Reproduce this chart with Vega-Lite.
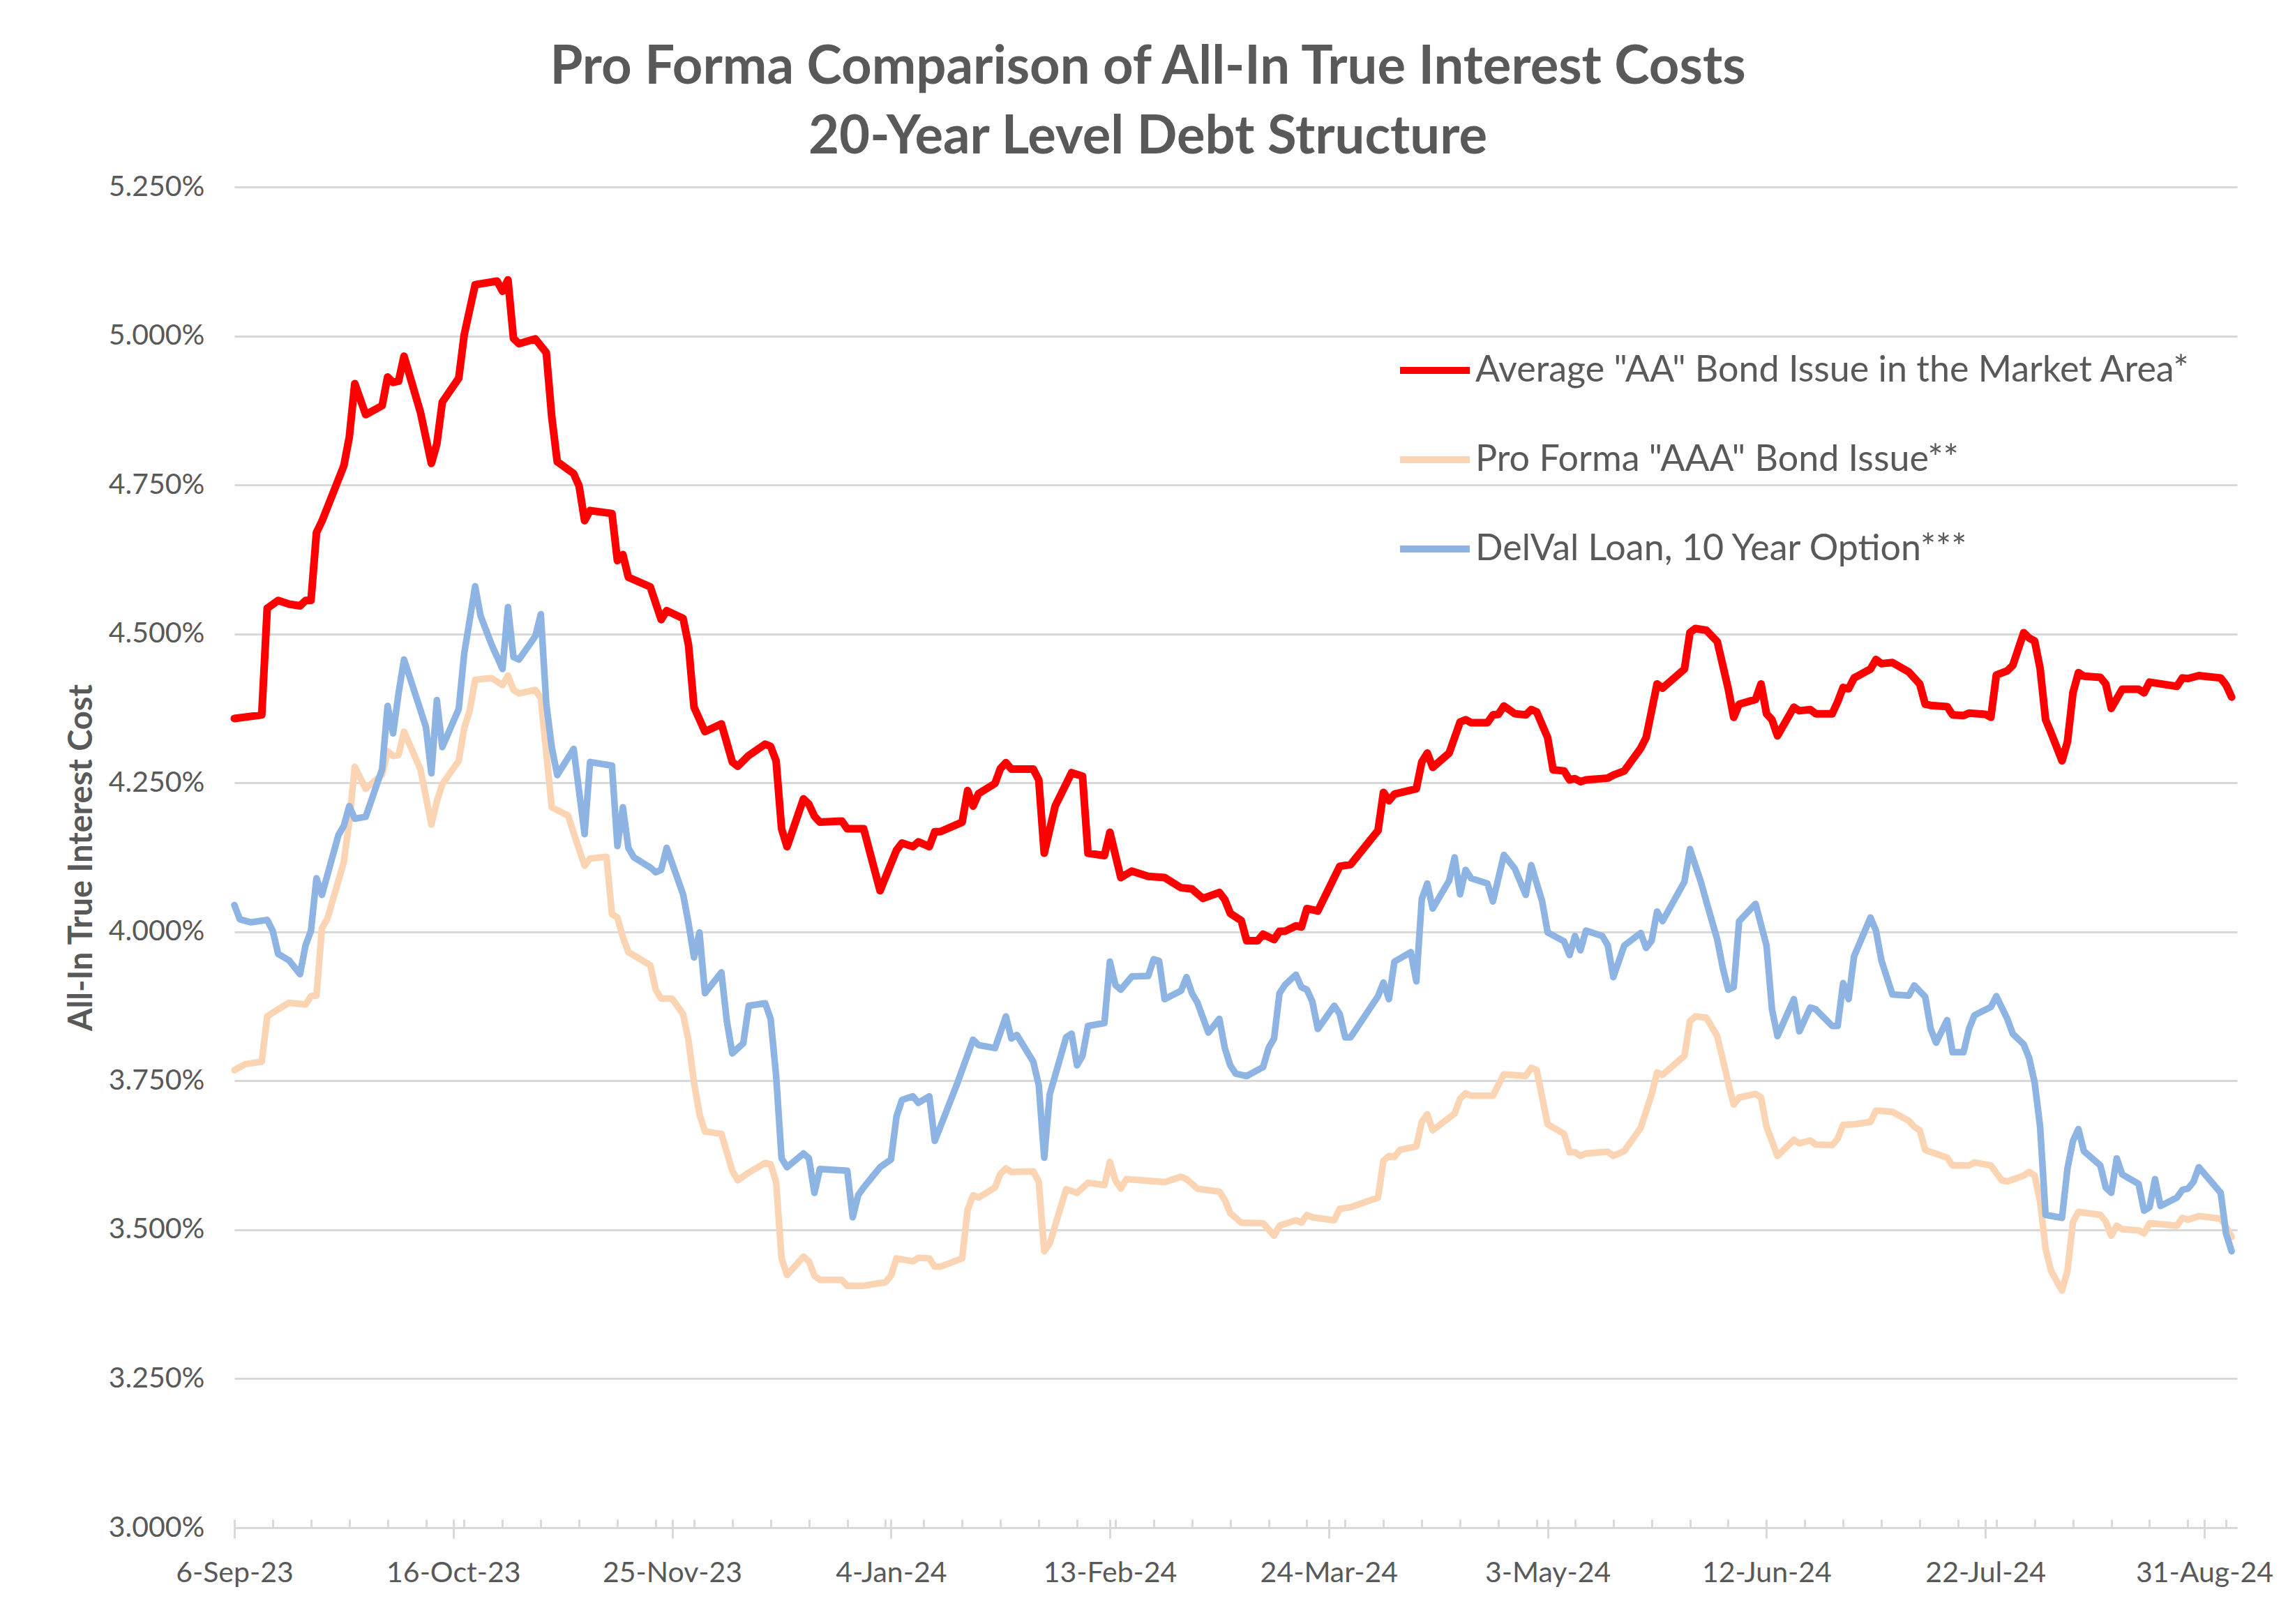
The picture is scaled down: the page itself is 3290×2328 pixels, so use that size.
{
"$schema": "https://vega.github.io/schema/vega-lite/v6.json",
"width": 2871, "height": 1922,
"autosize": {"type": "none"},
"padding": {"left": 336, "top": 268, "right": 83, "bottom": 138},
"background": "white",
"config": {"view": {"stroke": null}, "font": "Lato"},
"title": {"text": ["Pro Forma Comparison of All-In True Interest Costs", "20-Year Level Debt Structure"], "font": "Lato", "fontSize": 76, "fontWeight": "bold", "color": "#595959", "lineHeight": 100, "anchor": "middle", "frame": "group", "dx": -126, "dy": 101, "offset": 36, "baseline": "bottom"},
"datasets": {
"aa": [
{"d":"2023-09-06","v":4.358},{"d":"2023-09-11","v":4.364},{"d":"2023-09-12","v":4.543},{"d":"2023-09-14","v":4.556},{"d":"2023-09-16","v":4.550},{"d":"2023-09-18","v":4.547},{"d":"2023-09-19","v":4.556},{"d":"2023-09-20","v":4.556},{"d":"2023-09-21","v":4.670},{"d":"2023-09-22","v":4.689},{"d":"2023-09-26","v":4.782},{"d":"2023-09-27","v":4.830},{"d":"2023-09-28","v":4.920},{"d":"2023-09-30","v":4.868},
{"d":"2023-10-03","v":4.883},{"d":"2023-10-04","v":4.931},{"d":"2023-10-05","v":4.922},{"d":"2023-10-06","v":4.924},{"d":"2023-10-07","v":4.966},{"d":"2023-10-10","v":4.872},{"d":"2023-10-12","v":4.786},{"d":"2023-10-13","v":4.819},{"d":"2023-10-14","v":4.889},{"d":"2023-10-17","v":4.929},{"d":"2023-10-18","v":5.002},{"d":"2023-10-20","v":5.086},{"d":"2023-10-24","v":5.092},{"d":"2023-10-25","v":5.075},{"d":"2023-10-26","v":5.094},{"d":"2023-10-27","v":4.996},{"d":"2023-10-28","v":4.987},{"d":"2023-10-31","v":4.995},
{"d":"2023-11-02","v":4.972},{"d":"2023-11-03","v":4.864},{"d":"2023-11-04","v":4.789},{"d":"2023-11-07","v":4.769},{"d":"2023-11-08","v":4.748},{"d":"2023-11-09","v":4.690},{"d":"2023-11-10","v":4.707},{"d":"2023-11-14","v":4.702},{"d":"2023-11-15","v":4.623},{"d":"2023-11-16","v":4.633},{"d":"2023-11-17","v":4.595},{"d":"2023-11-21","v":4.579},{"d":"2023-11-23","v":4.524},{"d":"2023-11-24","v":4.539},{"d":"2023-11-27","v":4.526},{"d":"2023-11-28","v":4.481},{"d":"2023-11-29","v":4.377},
{"d":"2023-12-01","v":4.336},{"d":"2023-12-04","v":4.349},{"d":"2023-12-06","v":4.285},{"d":"2023-12-07","v":4.278},{"d":"2023-12-09","v":4.296},{"d":"2023-12-12","v":4.315},{"d":"2023-12-13","v":4.311},{"d":"2023-12-14","v":4.287},{"d":"2023-12-15","v":4.173},{"d":"2023-12-16","v":4.143},{"d":"2023-12-19","v":4.223},{"d":"2023-12-20","v":4.214},{"d":"2023-12-21","v":4.194},{"d":"2023-12-22","v":4.184},{"d":"2023-12-26","v":4.186},{"d":"2023-12-27","v":4.173},{"d":"2023-12-30","v":4.173},
{"d":"2024-01-02","v":4.069},{"d":"2024-01-05","v":4.137},{"d":"2024-01-06","v":4.149},{"d":"2024-01-08","v":4.143},{"d":"2024-01-09","v":4.151},{"d":"2024-01-11","v":4.143},{"d":"2024-01-12","v":4.168},{"d":"2024-01-13","v":4.168},{"d":"2024-01-17","v":4.184},{"d":"2024-01-18","v":4.237},{"d":"2024-01-19","v":4.211},{"d":"2024-01-20","v":4.232},{"d":"2024-01-23","v":4.249},{"d":"2024-01-24","v":4.274},{"d":"2024-01-25","v":4.284},{"d":"2024-01-26","v":4.273},{"d":"2024-01-30","v":4.273},{"d":"2024-01-31","v":4.255},
{"d":"2024-02-01","v":4.132},{"d":"2024-02-03","v":4.211},{"d":"2024-02-06","v":4.267},{"d":"2024-02-08","v":4.261},{"d":"2024-02-09","v":4.132},{"d":"2024-02-12","v":4.128},{"d":"2024-02-13","v":4.167},{"d":"2024-02-15","v":4.091},{"d":"2024-02-17","v":4.102},{"d":"2024-02-20","v":4.093},{"d":"2024-02-23","v":4.091},{"d":"2024-02-26","v":4.074},{"d":"2024-02-28","v":4.072},
{"d":"2024-03-01","v":4.056},{"d":"2024-03-04","v":4.066},{"d":"2024-03-05","v":4.054},{"d":"2024-03-06","v":4.031},{"d":"2024-03-08","v":4.019},{"d":"2024-03-09","v":3.985},{"d":"2024-03-11","v":3.985},{"d":"2024-03-12","v":3.996},{"d":"2024-03-14","v":3.987},{"d":"2024-03-15","v":4.001},{"d":"2024-03-16","v":4.001},{"d":"2024-03-18","v":4.010},{"d":"2024-03-19","v":4.008},{"d":"2024-03-20","v":4.039},{"d":"2024-03-22","v":4.035},{"d":"2024-03-26","v":4.110},{"d":"2024-03-28","v":4.113},
{"d":"2024-04-02","v":4.170},{"d":"2024-04-03","v":4.234},{"d":"2024-04-04","v":4.220},{"d":"2024-04-05","v":4.231},{"d":"2024-04-09","v":4.240},{"d":"2024-04-10","v":4.285},{"d":"2024-04-11","v":4.300},{"d":"2024-04-12","v":4.276},{"d":"2024-04-15","v":4.300},{"d":"2024-04-17","v":4.352},{"d":"2024-04-18","v":4.356},{"d":"2024-04-19","v":4.351},{"d":"2024-04-22","v":4.351},{"d":"2024-04-23","v":4.364},{"d":"2024-04-24","v":4.365},{"d":"2024-04-25","v":4.379},{"d":"2024-04-27","v":4.366},{"d":"2024-04-29","v":4.364},{"d":"2024-04-30","v":4.373},
{"d":"2024-05-01","v":4.369},{"d":"2024-05-03","v":4.326},{"d":"2024-05-04","v":4.272},{"d":"2024-05-06","v":4.270},{"d":"2024-05-07","v":4.255},{"d":"2024-05-08","v":4.257},{"d":"2024-05-09","v":4.252},{"d":"2024-05-10","v":4.255},{"d":"2024-05-14","v":4.258},{"d":"2024-05-15","v":4.263},{"d":"2024-05-17","v":4.270},{"d":"2024-05-20","v":4.308},{"d":"2024-05-21","v":4.326},{"d":"2024-05-23","v":4.416},{"d":"2024-05-24","v":4.409},{"d":"2024-05-28","v":4.441},{"d":"2024-05-29","v":4.502},{"d":"2024-05-30","v":4.509},
{"d":"2024-06-01","v":4.506},{"d":"2024-06-03","v":4.487},{"d":"2024-06-05","v":4.408},{"d":"2024-06-06","v":4.360},{"d":"2024-06-07","v":4.382},{"d":"2024-06-10","v":4.390},{"d":"2024-06-11","v":4.416},{"d":"2024-06-12","v":4.366},{"d":"2024-06-13","v":4.356},{"d":"2024-06-14","v":4.329},{"d":"2024-06-17","v":4.377},{"d":"2024-06-18","v":4.371},{"d":"2024-06-20","v":4.373},{"d":"2024-06-21","v":4.366},{"d":"2024-06-24","v":4.366},{"d":"2024-06-25","v":4.386},{"d":"2024-06-26","v":4.410},{"d":"2024-06-27","v":4.408},{"d":"2024-06-28","v":4.426},
{"d":"2024-07-01","v":4.441},{"d":"2024-07-02","v":4.457},{"d":"2024-07-03","v":4.450},{"d":"2024-07-05","v":4.452},{"d":"2024-07-08","v":4.436},{"d":"2024-07-10","v":4.416},{"d":"2024-07-11","v":4.382},{"d":"2024-07-12","v":4.380},{"d":"2024-07-15","v":4.378},{"d":"2024-07-16","v":4.364},{"d":"2024-07-18","v":4.363},{"d":"2024-07-19","v":4.367},{"d":"2024-07-22","v":4.365},{"d":"2024-07-23","v":4.360},{"d":"2024-07-24","v":4.431},{"d":"2024-07-26","v":4.438},{"d":"2024-07-27","v":4.447},{"d":"2024-07-29","v":4.502},{"d":"2024-07-30","v":4.493},{"d":"2024-07-31","v":4.488},
{"d":"2024-08-01","v":4.442},{"d":"2024-08-02","v":4.356},{"d":"2024-08-03","v":4.334},{"d":"2024-08-05","v":4.287},{"d":"2024-08-06","v":4.319},{"d":"2024-08-07","v":4.401},{"d":"2024-08-08","v":4.435},{"d":"2024-08-09","v":4.429},{"d":"2024-08-12","v":4.427},{"d":"2024-08-13","v":4.416},{"d":"2024-08-14","v":4.375},{"d":"2024-08-16","v":4.407},{"d":"2024-08-19","v":4.407},{"d":"2024-08-20","v":4.401},{"d":"2024-08-21","v":4.419},{"d":"2024-08-26","v":4.412},{"d":"2024-08-27","v":4.426},{"d":"2024-08-28","v":4.425},{"d":"2024-08-30","v":4.430},
{"d":"2024-09-03","v":4.426},{"d":"2024-09-04","v":4.414},{"d":"2024-09-05","v":4.394}
],
"aaa": [
{"d":"2023-09-06","v":3.768},{"d":"2023-09-08","v":3.778},{"d":"2023-09-11","v":3.782},{"d":"2023-09-12","v":3.858},{"d":"2023-09-14","v":3.870},{"d":"2023-09-16","v":3.881},{"d":"2023-09-19","v":3.878},{"d":"2023-09-20","v":3.892},{"d":"2023-09-21","v":3.893},{"d":"2023-09-22","v":4.006},{"d":"2023-09-23","v":4.022},{"d":"2023-09-26","v":4.117},{"d":"2023-09-27","v":4.186},{"d":"2023-09-28","v":4.277},{"d":"2023-09-30","v":4.240},
{"d":"2023-10-03","v":4.264},{"d":"2023-10-04","v":4.303},{"d":"2023-10-05","v":4.295},{"d":"2023-10-06","v":4.297},{"d":"2023-10-07","v":4.336},{"d":"2023-10-10","v":4.273},{"d":"2023-10-12","v":4.180},{"d":"2023-10-13","v":4.219},{"d":"2023-10-14","v":4.248},{"d":"2023-10-17","v":4.287},{"d":"2023-10-18","v":4.342},{"d":"2023-10-19","v":4.371},{"d":"2023-10-20","v":4.423},{"d":"2023-10-23","v":4.426},{"d":"2023-10-25","v":4.414},{"d":"2023-10-26","v":4.430},{"d":"2023-10-27","v":4.406},{"d":"2023-10-28","v":4.400},{"d":"2023-10-31","v":4.406},
{"d":"2023-11-01","v":4.392},{"d":"2023-11-02","v":4.301},{"d":"2023-11-03","v":4.209},{"d":"2023-11-06","v":4.195},{"d":"2023-11-07","v":4.166},{"d":"2023-11-09","v":4.111},{"d":"2023-11-10","v":4.123},{"d":"2023-11-13","v":4.126},{"d":"2023-11-14","v":4.030},{"d":"2023-11-15","v":4.024},{"d":"2023-11-16","v":3.991},{"d":"2023-11-17","v":3.966},{"d":"2023-11-21","v":3.944},{"d":"2023-11-22","v":3.903},{"d":"2023-11-23","v":3.888},{"d":"2023-11-25","v":3.888},{"d":"2023-11-27","v":3.862},{"d":"2023-11-28","v":3.817},{"d":"2023-11-29","v":3.747},{"d":"2023-11-30","v":3.694},
{"d":"2023-12-01","v":3.665},{"d":"2023-12-04","v":3.661},{"d":"2023-12-06","v":3.599},{"d":"2023-12-07","v":3.583},{"d":"2023-12-09","v":3.596},{"d":"2023-12-12","v":3.612},{"d":"2023-12-13","v":3.610},{"d":"2023-12-14","v":3.580},{"d":"2023-12-15","v":3.452},{"d":"2023-12-16","v":3.424},{"d":"2023-12-19","v":3.455},{"d":"2023-12-20","v":3.447},{"d":"2023-12-21","v":3.423},{"d":"2023-12-22","v":3.416},{"d":"2023-12-26","v":3.416},{"d":"2023-12-27","v":3.406},{"d":"2023-12-30","v":3.406},
{"d":"2024-01-03","v":3.412},{"d":"2024-01-04","v":3.423},{"d":"2024-01-05","v":3.452},{"d":"2024-01-08","v":3.447},{"d":"2024-01-09","v":3.453},{"d":"2024-01-11","v":3.452},{"d":"2024-01-12","v":3.438},{"d":"2024-01-13","v":3.438},{"d":"2024-01-17","v":3.452},{"d":"2024-01-18","v":3.534},{"d":"2024-01-19","v":3.558},{"d":"2024-01-20","v":3.554},{"d":"2024-01-23","v":3.571},{"d":"2024-01-24","v":3.594},{"d":"2024-01-25","v":3.603},{"d":"2024-01-26","v":3.597},{"d":"2024-01-30","v":3.598},{"d":"2024-01-31","v":3.581},
{"d":"2024-02-01","v":3.464},{"d":"2024-02-02","v":3.477},{"d":"2024-02-05","v":3.568},{"d":"2024-02-07","v":3.562},{"d":"2024-02-09","v":3.579},{"d":"2024-02-12","v":3.575},{"d":"2024-02-13","v":3.614},{"d":"2024-02-14","v":3.583},{"d":"2024-02-15","v":3.569},{"d":"2024-02-16","v":3.585},{"d":"2024-02-23","v":3.580},{"d":"2024-02-26","v":3.589},{"d":"2024-02-27","v":3.585},{"d":"2024-02-29","v":3.569},
{"d":"2024-03-04","v":3.564},{"d":"2024-03-05","v":3.550},{"d":"2024-03-06","v":3.528},{"d":"2024-03-08","v":3.512},{"d":"2024-03-12","v":3.511},{"d":"2024-03-14","v":3.490},{"d":"2024-03-15","v":3.507},{"d":"2024-03-18","v":3.516},{"d":"2024-03-19","v":3.512},{"d":"2024-03-20","v":3.525},{"d":"2024-03-21","v":3.521},{"d":"2024-03-25","v":3.516},{"d":"2024-03-26","v":3.535},{"d":"2024-03-28","v":3.538},
{"d":"2024-04-02","v":3.554},{"d":"2024-04-03","v":3.616},{"d":"2024-04-04","v":3.624},{"d":"2024-04-05","v":3.622},{"d":"2024-04-06","v":3.634},{"d":"2024-04-09","v":3.640},{"d":"2024-04-10","v":3.681},{"d":"2024-04-11","v":3.694},{"d":"2024-04-12","v":3.667},{"d":"2024-04-16","v":3.695},{"d":"2024-04-17","v":3.720},{"d":"2024-04-18","v":3.729},{"d":"2024-04-19","v":3.725},{"d":"2024-04-23","v":3.725},{"d":"2024-04-25","v":3.761},{"d":"2024-04-29","v":3.758},{"d":"2024-04-30","v":3.772},
{"d":"2024-05-01","v":3.768},{"d":"2024-05-03","v":3.677},{"d":"2024-05-06","v":3.661},{"d":"2024-05-07","v":3.630},{"d":"2024-05-08","v":3.630},{"d":"2024-05-09","v":3.624},{"d":"2024-05-10","v":3.628},{"d":"2024-05-14","v":3.631},{"d":"2024-05-15","v":3.624},{"d":"2024-05-17","v":3.632},{"d":"2024-05-20","v":3.671},{"d":"2024-05-22","v":3.727},{"d":"2024-05-23","v":3.764},{"d":"2024-05-24","v":3.760},{"d":"2024-05-28","v":3.792},{"d":"2024-05-29","v":3.850},{"d":"2024-05-30","v":3.858},
{"d":"2024-06-01","v":3.856},{"d":"2024-06-03","v":3.825},{"d":"2024-06-05","v":3.747},{"d":"2024-06-06","v":3.710},{"d":"2024-06-07","v":3.722},{"d":"2024-06-10","v":3.728},{"d":"2024-06-11","v":3.722},{"d":"2024-06-12","v":3.673},{"d":"2024-06-14","v":3.624},{"d":"2024-06-17","v":3.651},{"d":"2024-06-18","v":3.645},{"d":"2024-06-20","v":3.650},{"d":"2024-06-21","v":3.643},{"d":"2024-06-24","v":3.642},{"d":"2024-06-25","v":3.653},{"d":"2024-06-26","v":3.676},{"d":"2024-06-28","v":3.677},
{"d":"2024-07-01","v":3.681},{"d":"2024-07-02","v":3.700},{"d":"2024-07-05","v":3.698},{"d":"2024-07-08","v":3.683},{"d":"2024-07-09","v":3.673},{"d":"2024-07-10","v":3.667},{"d":"2024-07-11","v":3.634},{"d":"2024-07-15","v":3.621},{"d":"2024-07-16","v":3.608},{"d":"2024-07-19","v":3.608},{"d":"2024-07-20","v":3.613},{"d":"2024-07-23","v":3.608},{"d":"2024-07-25","v":3.583},{"d":"2024-07-26","v":3.581},{"d":"2024-07-29","v":3.591},{"d":"2024-07-30","v":3.597},{"d":"2024-07-31","v":3.591},
{"d":"2024-08-01","v":3.548},{"d":"2024-08-02","v":3.468},{"d":"2024-08-03","v":3.431},{"d":"2024-08-05","v":3.398},{"d":"2024-08-06","v":3.431},{"d":"2024-08-07","v":3.513},{"d":"2024-08-08","v":3.530},{"d":"2024-08-12","v":3.525},{"d":"2024-08-13","v":3.514},{"d":"2024-08-14","v":3.490},{"d":"2024-08-15","v":3.507},{"d":"2024-08-16","v":3.501},{"d":"2024-08-19","v":3.499},{"d":"2024-08-20","v":3.494},{"d":"2024-08-21","v":3.511},{"d":"2024-08-26","v":3.507},{"d":"2024-08-27","v":3.520},{"d":"2024-08-28","v":3.517},{"d":"2024-08-30","v":3.523},
{"d":"2024-09-03","v":3.519},{"d":"2024-09-04","v":3.505},{"d":"2024-09-05","v":3.488}
],
"dv": [
{"d":"2023-09-06","v":4.045},{"d":"2023-09-07","v":4.021},{"d":"2023-09-09","v":4.016},{"d":"2023-09-12","v":4.020},{"d":"2023-09-13","v":4.002},{"d":"2023-09-14","v":3.963},{"d":"2023-09-16","v":3.952},{"d":"2023-09-18","v":3.929},{"d":"2023-09-19","v":3.977},{"d":"2023-09-20","v":4.002},{"d":"2023-09-21","v":4.090},{"d":"2023-09-22","v":4.062},{"d":"2023-09-25","v":4.162},{"d":"2023-09-26","v":4.178},{"d":"2023-09-27","v":4.211},{"d":"2023-09-28","v":4.190},{"d":"2023-09-30","v":4.193},
{"d":"2023-10-03","v":4.273},{"d":"2023-10-04","v":4.379},{"d":"2023-10-05","v":4.333},{"d":"2023-10-06","v":4.400},{"d":"2023-10-07","v":4.457},{"d":"2023-10-11","v":4.344},{"d":"2023-10-12","v":4.266},{"d":"2023-10-13","v":4.389},{"d":"2023-10-14","v":4.310},{"d":"2023-10-17","v":4.374},{"d":"2023-10-18","v":4.467},{"d":"2023-10-19","v":4.523},{"d":"2023-10-20","v":4.580},{"d":"2023-10-21","v":4.530},{"d":"2023-10-23","v":4.482},{"d":"2023-10-25","v":4.441},{"d":"2023-10-26","v":4.545},{"d":"2023-10-27","v":4.461},{"d":"2023-10-28","v":4.457},{"d":"2023-10-31","v":4.496},
{"d":"2023-11-01","v":4.533},{"d":"2023-11-02","v":4.383},{"d":"2023-11-03","v":4.310},{"d":"2023-11-04","v":4.263},{"d":"2023-11-07","v":4.307},{"d":"2023-11-09","v":4.164},{"d":"2023-11-10","v":4.285},{"d":"2023-11-14","v":4.279},{"d":"2023-11-15","v":4.144},{"d":"2023-11-16","v":4.209},{"d":"2023-11-17","v":4.141},{"d":"2023-11-18","v":4.125},{"d":"2023-11-21","v":4.108},{"d":"2023-11-22","v":4.100},{"d":"2023-11-23","v":4.104},{"d":"2023-11-24","v":4.141},{"d":"2023-11-27","v":4.063},{"d":"2023-11-28","v":4.014},{"d":"2023-11-29","v":3.957},{"d":"2023-11-30","v":3.999},
{"d":"2023-12-01","v":3.897},{"d":"2023-12-04","v":3.932},{"d":"2023-12-05","v":3.850},{"d":"2023-12-06","v":3.796},{"d":"2023-12-08","v":3.813},{"d":"2023-12-09","v":3.876},{"d":"2023-12-12","v":3.880},{"d":"2023-12-13","v":3.854},{"d":"2023-12-14","v":3.759},{"d":"2023-12-15","v":3.620},{"d":"2023-12-16","v":3.605},{"d":"2023-12-19","v":3.628},{"d":"2023-12-20","v":3.620},{"d":"2023-12-21","v":3.562},{"d":"2023-12-22","v":3.602},{"d":"2023-12-27","v":3.599},{"d":"2023-12-28","v":3.521},{"d":"2023-12-29","v":3.558},{"d":"2023-12-30","v":3.571},
{"d":"2024-01-02","v":3.605},{"d":"2024-01-04","v":3.618},{"d":"2024-01-05","v":3.690},{"d":"2024-01-06","v":3.718},{"d":"2024-01-08","v":3.724},{"d":"2024-01-09","v":3.713},{"d":"2024-01-11","v":3.724},{"d":"2024-01-12","v":3.649},{"d":"2024-01-16","v":3.743},{"d":"2024-01-19","v":3.819},{"d":"2024-01-20","v":3.810},{"d":"2024-01-23","v":3.805},{"d":"2024-01-25","v":3.858},{"d":"2024-01-26","v":3.821},{"d":"2024-01-27","v":3.827},{"d":"2024-01-30","v":3.782},{"d":"2024-01-31","v":3.743},
{"d":"2024-02-01","v":3.621},{"d":"2024-02-02","v":3.727},{"d":"2024-02-05","v":3.823},{"d":"2024-02-06","v":3.829},{"d":"2024-02-07","v":3.776},{"d":"2024-02-08","v":3.792},{"d":"2024-02-09","v":3.842},{"d":"2024-02-12","v":3.847},{"d":"2024-02-13","v":3.950},{"d":"2024-02-14","v":3.911},{"d":"2024-02-15","v":3.903},{"d":"2024-02-17","v":3.925},{"d":"2024-02-20","v":3.926},{"d":"2024-02-21","v":3.954},{"d":"2024-02-22","v":3.951},{"d":"2024-02-23","v":3.887},{"d":"2024-02-26","v":3.901},{"d":"2024-02-27","v":3.924},{"d":"2024-02-28","v":3.897},{"d":"2024-02-29","v":3.881},
{"d":"2024-03-02","v":3.831},{"d":"2024-03-04","v":3.854},{"d":"2024-03-05","v":3.805},{"d":"2024-03-06","v":3.776},{"d":"2024-03-07","v":3.762},{"d":"2024-03-09","v":3.758},{"d":"2024-03-12","v":3.773},{"d":"2024-03-13","v":3.805},{"d":"2024-03-14","v":3.821},{"d":"2024-03-15","v":3.897},{"d":"2024-03-16","v":3.911},{"d":"2024-03-18","v":3.928},{"d":"2024-03-19","v":3.907},{"d":"2024-03-20","v":3.903},{"d":"2024-03-21","v":3.883},{"d":"2024-03-22","v":3.837},{"d":"2024-03-25","v":3.876},{"d":"2024-03-26","v":3.862},{"d":"2024-03-27","v":3.823},{"d":"2024-03-28","v":3.823},
{"d":"2024-04-02","v":3.892},{"d":"2024-04-03","v":3.915},{"d":"2024-04-04","v":3.887},{"d":"2024-04-05","v":3.950},{"d":"2024-04-08","v":3.966},{"d":"2024-04-09","v":3.917},{"d":"2024-04-10","v":4.055},{"d":"2024-04-11","v":4.081},{"d":"2024-04-12","v":4.039},{"d":"2024-04-15","v":4.086},{"d":"2024-04-16","v":4.125},{"d":"2024-04-17","v":4.063},{"d":"2024-04-18","v":4.104},{"d":"2024-04-19","v":4.090},{"d":"2024-04-22","v":4.081},{"d":"2024-04-23","v":4.051},{"d":"2024-04-25","v":4.129},{"d":"2024-04-27","v":4.106},{"d":"2024-04-29","v":4.062},{"d":"2024-04-30","v":4.112},
{"d":"2024-05-02","v":4.051},{"d":"2024-05-03","v":3.999},{"d":"2024-05-06","v":3.984},{"d":"2024-05-07","v":3.961},{"d":"2024-05-08","v":3.993},{"d":"2024-05-09","v":3.969},{"d":"2024-05-10","v":4.002},{"d":"2024-05-13","v":3.993},{"d":"2024-05-14","v":3.977},{"d":"2024-05-15","v":3.924},{"d":"2024-05-17","v":3.977},{"d":"2024-05-20","v":3.998},{"d":"2024-05-21","v":3.973},{"d":"2024-05-22","v":3.985},{"d":"2024-05-23","v":4.034},{"d":"2024-05-24","v":4.018},{"d":"2024-05-28","v":4.084},{"d":"2024-05-29","v":4.139},{"d":"2024-05-31","v":4.084},
{"d":"2024-06-01","v":4.051},{"d":"2024-06-03","v":3.987},{"d":"2024-06-04","v":3.940},{"d":"2024-06-05","v":3.903},{"d":"2024-06-06","v":3.907},{"d":"2024-06-07","v":4.018},{"d":"2024-06-10","v":4.047},{"d":"2024-06-12","v":3.977},{"d":"2024-06-13","v":3.870},{"d":"2024-06-14","v":3.825},{"d":"2024-06-17","v":3.887},{"d":"2024-06-18","v":3.833},{"d":"2024-06-20","v":3.873},{"d":"2024-06-21","v":3.870},{"d":"2024-06-24","v":3.842},{"d":"2024-06-25","v":3.842},{"d":"2024-06-26","v":3.914},{"d":"2024-06-27","v":3.887},{"d":"2024-06-28","v":3.959},
{"d":"2024-07-01","v":4.024},{"d":"2024-07-02","v":4.002},{"d":"2024-07-03","v":3.952},{"d":"2024-07-05","v":3.895},{"d":"2024-07-08","v":3.893},{"d":"2024-07-09","v":3.910},{"d":"2024-07-11","v":3.891},{"d":"2024-07-12","v":3.837},{"d":"2024-07-13","v":3.814},{"d":"2024-07-15","v":3.852},{"d":"2024-07-16","v":3.798},{"d":"2024-07-18","v":3.798},{"d":"2024-07-19","v":3.837},{"d":"2024-07-20","v":3.860},{"d":"2024-07-23","v":3.874},{"d":"2024-07-24","v":3.892},{"d":"2024-07-26","v":3.854},{"d":"2024-07-27","v":3.829},{"d":"2024-07-29","v":3.811},{"d":"2024-07-30","v":3.788},{"d":"2024-07-31","v":3.747},
{"d":"2024-08-01","v":3.673},{"d":"2024-08-02","v":3.525},{"d":"2024-08-05","v":3.520},{"d":"2024-08-06","v":3.603},{"d":"2024-08-07","v":3.649},{"d":"2024-08-08","v":3.669},{"d":"2024-08-09","v":3.632},{"d":"2024-08-12","v":3.608},{"d":"2024-08-13","v":3.571},{"d":"2024-08-14","v":3.562},{"d":"2024-08-15","v":3.620},{"d":"2024-08-16","v":3.593},{"d":"2024-08-19","v":3.577},{"d":"2024-08-20","v":3.532},{"d":"2024-08-21","v":3.538},{"d":"2024-08-22","v":3.585},{"d":"2024-08-23","v":3.540},{"d":"2024-08-26","v":3.554},{"d":"2024-08-27","v":3.567},{"d":"2024-08-28","v":3.569},{"d":"2024-08-29","v":3.580},{"d":"2024-08-30","v":3.605},
{"d":"2024-09-03","v":3.562},{"d":"2024-09-04","v":3.493},{"d":"2024-09-05","v":3.464}
]
},
"encoding": {
"y": {"field": "v", "type": "quantitative",
 "scale": {"domain": [3, 5.25], "nice": false, "zero": false},
 "axis": {"values": [3, 3.25, 3.5, 3.75, 4, 4.25, 4.5, 4.75, 5, 5.25], "labelExpr": "format(datum.value, '.3f') + '%'", "grid": true, "gridColor": "#D9D9D9", "gridWidth": 3, "domain": false, "ticks": false, "labelPadding": 43, "labelFont": "Lato", "labelFontSize": 41, "labelColor": "#595959", "title": "All-In True Interest Cost", "titleFont": "Lato", "titleFontSize": 47, "titleFontWeight": "bold", "titleColor": "#595959", "titleX": -219, "titleY": 961, "titleAngle": -90, "titleAlign": "center", "titleBaseline": "middle"}}
},
"layer": [
{
 "data": {"name": "aa"},
 "mark": {"type": "line", "strokeWidth": 11, "strokeJoin": "round", "strokeCap": "round"},
 "encoding": {
  "x": {"field": "d", "type": "temporal",
   "scale": {"type": "utc", "domain": [{"year": 2023, "month": 9, "date": 6, "utc": true}, {"year": 2024, "month": 9, "date": 6, "utc": true}]},
   "axis": {"orient": "bottom", "values": [{"year":2023,"month":9,"date":6,"utc":true},{"year":2023,"month":10,"date":16,"utc":true},{"year":2023,"month":11,"date":25,"utc":true},{"year":2024,"month":1,"date":4,"utc":true},{"year":2024,"month":2,"date":13,"utc":true},{"year":2024,"month":3,"date":24,"utc":true},{"year":2024,"month":5,"date":3,"utc":true},{"year":2024,"month":6,"date":12,"utc":true},{"year":2024,"month":7,"date":22,"utc":true},{"year":2024,"month":8,"date":31,"utc":true}],
    "labelExpr": "utcFormat(datum.value, '%-d-%b-%y')", "grid": false, "domain": true, "domainColor": "#D9D9D9", "domainWidth": 3, "ticks": true, "tickSize": 15, "tickColor": "#D9D9D9", "tickWidth": 3, "labelPadding": 30, "labelFont": "Lato", "labelFontSize": 41, "labelColor": "#595959", "labelFlush": false, "labelOverlap": false, "labelLimit": 0, "title": null}},
  "color": {"datum": "Average \"AA\" Bond Issue in the Market Area*",
   "scale": {"domain": ["Average \"AA\" Bond Issue in the Market Area*", "Pro Forma \"AAA\" Bond Issue**", "DelVal Loan, 10 Year Option***"], "range": ["#FF0000", "#FBD4B4", "#8EB4E3"]},
   "legend": {"orient": "none", "legendX": 1666, "legendY": 208, "symbolType": "stroke", "symbolSize": 10000, "symbolStrokeWidth": 10, "labelFont": "Lato", "labelFontSize": 52, "labelColor": "#595959", "labelOffset": 3, "rowPadding": 47, "padding": 0, "title": null, "labelLimit": 0}}
 }
},
{
 "data": {"name": "aaa"},
 "mark": {"type": "line", "strokeWidth": 9.5, "strokeJoin": "round", "strokeCap": "round"},
 "encoding": {
  "x": {"field": "d", "type": "temporal",
   "axis": {"orient": "bottom", "values": [{"year":2023,"month":9,"date":6,"utc":true},{"year":2023,"month":9,"date":13,"utc":true},{"year":2023,"month":9,"date":20,"utc":true},{"year":2023,"month":9,"date":27,"utc":true},{"year":2023,"month":10,"date":4,"utc":true},{"year":2023,"month":10,"date":11,"utc":true},{"year":2023,"month":10,"date":16,"utc":true},{"year":2023,"month":10,"date":18,"utc":true},{"year":2023,"month":10,"date":25,"utc":true},{"year":2023,"month":11,"date":1,"utc":true},{"year":2023,"month":11,"date":8,"utc":true},{"year":2023,"month":11,"date":15,"utc":true},{"year":2023,"month":11,"date":22,"utc":true},{"year":2023,"month":11,"date":25,"utc":true},{"year":2023,"month":11,"date":29,"utc":true},{"year":2023,"month":12,"date":6,"utc":true},{"year":2023,"month":12,"date":13,"utc":true},{"year":2023,"month":12,"date":20,"utc":true},{"year":2023,"month":12,"date":27,"utc":true},{"year":2024,"month":1,"date":3,"utc":true},{"year":2024,"month":1,"date":4,"utc":true},{"year":2024,"month":1,"date":10,"utc":true},{"year":2024,"month":1,"date":17,"utc":true},{"year":2024,"month":1,"date":24,"utc":true},{"year":2024,"month":1,"date":31,"utc":true},{"year":2024,"month":2,"date":7,"utc":true},{"year":2024,"month":2,"date":13,"utc":true},{"year":2024,"month":2,"date":14,"utc":true},{"year":2024,"month":2,"date":21,"utc":true},{"year":2024,"month":2,"date":28,"utc":true},{"year":2024,"month":3,"date":6,"utc":true},{"year":2024,"month":3,"date":13,"utc":true},{"year":2024,"month":3,"date":20,"utc":true},{"year":2024,"month":3,"date":24,"utc":true},{"year":2024,"month":3,"date":27,"utc":true},{"year":2024,"month":4,"date":3,"utc":true},{"year":2024,"month":4,"date":10,"utc":true},{"year":2024,"month":4,"date":17,"utc":true},{"year":2024,"month":4,"date":24,"utc":true},{"year":2024,"month":5,"date":1,"utc":true},{"year":2024,"month":5,"date":3,"utc":true},{"year":2024,"month":5,"date":8,"utc":true},{"year":2024,"month":5,"date":15,"utc":true},{"year":2024,"month":5,"date":22,"utc":true},{"year":2024,"month":5,"date":29,"utc":true},{"year":2024,"month":6,"date":5,"utc":true},{"year":2024,"month":6,"date":12,"utc":true},{"year":2024,"month":6,"date":19,"utc":true},{"year":2024,"month":6,"date":26,"utc":true},{"year":2024,"month":7,"date":3,"utc":true},{"year":2024,"month":7,"date":10,"utc":true},{"year":2024,"month":7,"date":17,"utc":true},{"year":2024,"month":7,"date":22,"utc":true},{"year":2024,"month":7,"date":24,"utc":true},{"year":2024,"month":7,"date":31,"utc":true},{"year":2024,"month":8,"date":7,"utc":true},{"year":2024,"month":8,"date":14,"utc":true},{"year":2024,"month":8,"date":21,"utc":true},{"year":2024,"month":8,"date":28,"utc":true},{"year":2024,"month":8,"date":31,"utc":true},{"year":2024,"month":9,"date":4,"utc":true}],
    "labels": false, "grid": false, "domain": false, "ticks": true, "tickSize": -12, "tickColor": "#D9D9D9", "tickWidth": 3, "title": null}},
  "color": {"datum": "Pro Forma \"AAA\" Bond Issue**"}
 }
},
{
 "data": {"name": "dv"},
 "mark": {"type": "line", "strokeWidth": 9.5, "strokeJoin": "round", "strokeCap": "round"},
 "encoding": {
  "x": {"field": "d", "type": "temporal", "axis": null},
  "color": {"datum": "DelVal Loan, 10 Year Option***"}
 }
}
],
"resolve": {"axis": {"x": "independent"}}
}
